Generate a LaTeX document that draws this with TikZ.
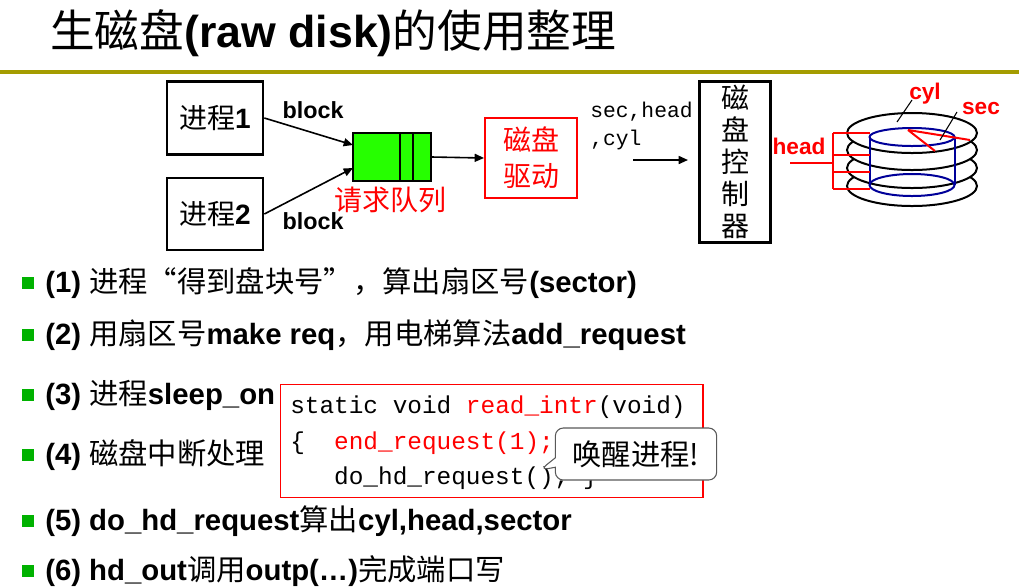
\documentclass[tikz,border=0pt]{standalone}
\usepackage{fontspec}
\setmainfont{Liberation Sans}
\newfontfamily\cjk{Noto Sans CJK SC}
\newfontfamily\mono{Liberation Mono}
\usetikzlibrary{arrows.meta,shapes.callouts}
\begin{document}
\begin{tikzpicture}[x=0.75pt,y=-0.75pt,
  box/.style={draw,line width=2pt,inner sep=0pt},
  arr/.style={-{Triangle[length=7pt,width=6pt]},line width=1.2pt},
  bul/.style={fill=green!70!black,minimum size=9pt,inner sep=0pt},
  btxt/.style={anchor=west,inner sep=0pt},
  rd/.style={red,line width=1.5pt}]
\useasboundingbox (0,0) rectangle (1019,587);
\node[anchor=west,inner sep=0pt,font=\fontsize{33.5}{35}\selectfont] (title) at (50,33) {{\cjk 生磁盘}\textbf{(raw disk)}{\cjk 的使用整理}};
\draw[line width=3pt,color=olive!80!yellow] (0,72) -- (1019,72);
% process boxes
\node[box,minimum width=72pt,minimum height=55pt,font=\fontsize{21}{22}\selectfont] (p1) at (215,118) {{\cjk 进程}\textbf{1}};
\node[box,minimum width=72pt,minimum height=54pt,font=\fontsize{21}{22}\selectfont] (p2) at (215,214) {{\cjk 进程}\textbf{2}};
\node[box,fill=green!80!lime,line width=1.5pt,minimum width=58pt,minimum height=36pt] (q) at (392,157) {};
\draw[line width=1.5pt] (400,133) -- (400,181) (413,133) -- (413,181);
\coordinate (q1) at (353,145);
\coordinate (q2) at (353,168);
\draw[arr] (p1.east) -- (q1);
\draw[arr] (p2.east) -- (q2);
\node[font=\fontsize{17.5}{18}\selectfont\bfseries] (b1) at (313,110) {block};
\node[font=\fontsize{17.5}{18}\selectfont\bfseries] (b2) at (313,221) {block};
\node[red,font=\fontsize{21}{22}\selectfont\cjk] (rq) at (390,200) {请求队列};
\node[draw=red,line width=1.5pt,minimum width=69pt,minimum height=60pt,align=center,red,font=\fontsize{21}{27}\selectfont\cjk] (drv) at (531,158) {磁盘\\驱动};
\draw[arr] (q.east) -- (drv.west);
\node[anchor=west,inner sep=0pt,align=left,font=\fontsize{16}{21}\selectfont\mono] (sh) at (590,126) {sec,head\\,cyl};
\coordinate (a1) at (633,160);
\coordinate (a2) at (688,160);
\draw[arr] (a1) -- (a2);
\node[box,minimum width=53pt,minimum height=121pt,align=center,font=\fontsize{21}{24}\selectfont\cjk] (ctl) at (735,162) {磁\\盘\\控\\制\\器};
% disk
\foreach \y in {186,168,150,133} \draw[line width=1.5pt,fill=white] (912,\y) ellipse (65 and 20);
\draw[blue!60!black,line width=1.5pt] (870,137) -- (870,185) (955,137) -- (955,185);
\draw[blue!60!black,line width=1.5pt] (912,137) ellipse (42.5 and 9);
\draw[blue!60!black,line width=1.5pt] (912,185) ellipse (42.5 and 11);
\draw[rd] (833,133) -- (833,189);
\foreach \y in {133,155,172,189} \draw[rd] (833,\y) -- (870,\y);
\draw[rd] (790,163) -- (833,163);
\draw[rd] (908,130) -- (970,140) (908,130) -- (935,151);
\draw[line width=0.8pt] (897,122) -- (912,100) (940,140) -- (957,112);
\node[red,font=\fontsize{17}{18}\selectfont\bfseries] (hd) at (799,146) {head};
\node[red,font=\fontsize{17}{18}\selectfont\bfseries] (cy) at (925,94) {cyl};
\node[red,font=\fontsize{17}{18}\selectfont\bfseries] (se) at (981,108) {sec};
% bullets
\foreach \y/\t in {283/{\textbf{(1)} {\cjk 进程“得到盘块号”，算出扇区号}\textbf{(sector)}},
  335/{\textbf{(2)} {\cjk 用扇区号}\textbf{make req}{\cjk ，用电梯算法}\textbf{add\_request}},
  395/{\textbf{(3)} {\cjk 进程}\textbf{sleep\_on}},
  455/{\textbf{(4)} {\cjk 磁盘中断处理}},
  521/{\textbf{(5) do\_hd\_request}{\cjk 算出}\textbf{cyl,head,sector}},
  571/{\textbf{(6) hd\_out}{\cjk 调用}\textbf{outp(…)}{\cjk 完成端口写}}}
{
  \node[bul] at (28,\y) {};
  \node[btxt,font=\fontsize{22}{23}\selectfont] at (45,\y) {\t};
}
% code box
\node[draw=red,line width=1pt,minimum width=317pt,minimum height=85pt] (code) at (491.5,441) {};
\node[anchor=west,inner sep=0pt,align=left,font=\fontsize{18.3}{26.5}\selectfont\mono] (ct) at (290,443) {static void \textcolor{red}{read\_intr}(void)\\\{\ \ \textcolor{red}{end\_request(1);}\\\ \ \ do\_hd\_request(); \}};
\node[rectangle callout,rounded corners=6pt,draw=gray!70!black,fill=white,line width=0.8pt,minimum width=121pt,minimum height=39pt,callout absolute pointer={(540,470)},font=\fontsize{22}{23}\selectfont\cjk] (cb) at (636,454) {唤醒进程!};
\end{tikzpicture}
\end{document}
